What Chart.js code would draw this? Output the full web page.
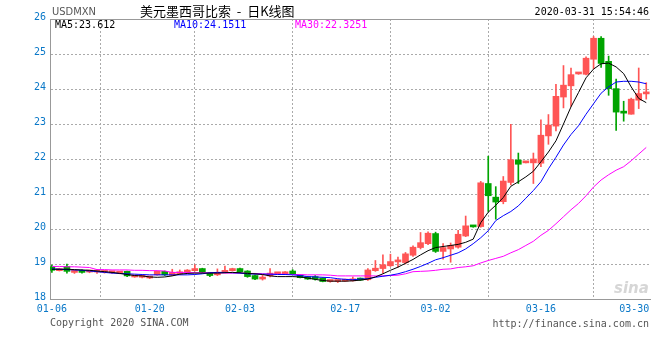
<!DOCTYPE html>
<html>
<head>
<meta charset="utf-8">
<script src="https://cdn.jsdelivr.net/npm/chart.js@4.4.1/dist/chart.umd.min.js"></script>
<style>
  html, body { margin: 0; padding: 0; background: #fff; }
  #wrap { position: relative; width: 660px; height: 360px; overflow: hidden; }
  #myChart { position: absolute; left: 0; top: 0; }
  .txt { position: absolute; white-space: pre; font-family: "DejaVu Sans Mono", monospace; font-size: 10px; line-height: 12px; }
</style>
</head>
<body>
<div id="wrap">
  <canvas id="myChart" width="660" height="360" style="width:660px;height:360px"></canvas>
  <span class="txt" style="left:52px;top:6px;color:#555;font-family:'Liberation Sans Narrow','DejaVu Sans Condensed',sans-serif;font-size:11px;">USDMXN</span>
  <span class="txt" style="left:140px;top:3px;color:#000;font-family:'Noto Sans CJK SC',sans-serif;font-size:13px;line-height:16px;">美元墨西哥比索  -  日K线图</span>
  <span class="txt" style="right:11px;top:6px;color:#000;">2020-03-31 15:54:46</span>
  <span class="txt" style="left:55px;top:19px;color:#000;">MA5:23.612</span>
  <span class="txt" style="left:174px;top:19px;color:#0000ff;">MA10:24.1511</span>
  <span class="txt" style="left:295px;top:19px;color:#ff00ff;">MA30:22.3251</span>
  <span class="txt" style="left:50px;top:317px;color:#555;">Copyright 2020 SINA.COM</span>
  <span class="txt" style="right:11px;top:318px;color:#555;">http://finance.sina.com.cn</span>
  <span class="txt" style="left:614px;top:280px;color:#d6d6d6;font-family:'DejaVu Sans',sans-serif;font-style:italic;font-weight:bold;font-size:15px;line-height:16px;">sina</span>
</div>
<script>
// dates on the category axis (one per candle)
var dates = [
  '01-06','01-07','01-08','01-09','01-10','01-11','01-13','01-14','01-15','01-16','01-17','01-18','01-19',
  '01-20','01-21','01-22','01-23','01-24','01-25','01-27','01-28','01-29','01-30','01-31','02-01',
  '02-03','02-04','02-05','02-06','02-07','02-08','02-09','02-10','02-11','02-12','02-13','02-14','02-15','02-16',
  '02-17','02-18','02-19','02-20','02-21','02-22','02-24','02-25','02-26','02-27','02-28','02-29',
  '03-02','03-03','03-04','03-05','03-06','03-07','03-08','03-09','03-10','03-11','03-12','03-13','03-14','03-15',
  '03-16','03-17','03-18','03-19','03-20','03-21','03-22','03-23','03-24','03-25','03-26','03-27','03-28','03-29',
  '03-30'
];
var tickDates = ['01-06','01-20','02-03','02-17','03-02','03-16','03-30'];

var open = [
  18.92,18.81,18.93,18.76,18.81,18.77,18.77,18.76,18.75,18.74,
  18.79,18.63,18.62,18.60,18.69,18.79,18.68,18.72,18.77,18.81,
  18.87,18.73,18.69,18.76,18.81,18.87,18.80,18.67,18.57,18.66,
  18.72,18.72,18.80,18.68,18.64,18.64,18.60,18.50,18.50,18.51,
  18.52,18.58,18.55,18.81,18.87,18.95,19.06,19.04,19.25,19.47,
  19.58,19.87,19.36,19.43,19.48,19.80,20.08,20.07,21.30,20.91,
  20.78,21.33,21.97,21.89,21.89,21.88,22.66,22.94,23.77,24.09,
  24.43,24.42,24.85,25.45,24.79,24.01,23.35,23.28,23.68,23.86
];
var close = [
  18.82,18.86,18.79,18.80,18.76,18.80,18.81,18.79,18.77,18.76,
  18.66,18.66,18.64,18.62,18.79,18.69,18.76,18.75,18.82,18.87,
  18.77,18.67,18.75,18.82,18.87,18.78,18.64,18.57,18.62,18.74,
  18.75,18.77,18.72,18.61,18.57,18.57,18.50,18.52,18.53,18.56,
  18.56,18.54,18.83,18.88,18.98,19.07,19.08,19.29,19.48,19.61,
  19.88,19.36,19.47,19.53,19.85,20.09,20.06,21.32,20.95,20.77,
  21.37,21.98,21.85,21.91,22.00,22.68,22.97,23.79,24.11,24.41,
  24.45,24.88,25.45,24.73,24.01,23.34,23.31,23.71,23.87,23.91
];
var high = [
  18.97,18.88,19.00,18.82,18.83,18.82,18.85,18.80,18.78,18.77,
  18.80,18.68,18.66,18.63,18.80,18.80,18.85,18.83,18.84,18.98,
  18.88,18.74,18.86,18.94,18.88,18.88,18.81,18.68,18.68,18.87,
  18.76,18.78,18.84,18.69,18.65,18.67,18.61,18.53,18.54,18.57,
  18.63,18.60,18.87,19.10,19.26,19.28,19.20,19.33,19.52,19.90,
  19.92,19.91,19.58,19.60,19.96,20.37,20.09,21.36,22.08,21.21,
  21.50,22.99,22.17,21.92,22.17,23.12,23.27,24.13,24.67,24.60,
  24.46,24.92,25.50,25.50,24.94,24.28,23.65,23.74,24.60,24.18
];
var low = [
  18.76,18.80,18.74,18.73,18.74,18.75,18.73,18.74,18.73,18.72,
  18.64,18.62,18.60,18.58,18.68,18.67,18.67,18.70,18.72,18.80,
  18.74,18.64,18.67,18.75,18.80,18.77,18.62,18.55,18.54,18.63,
  18.71,18.71,18.71,18.60,18.56,18.54,18.49,18.48,18.47,18.50,
  18.51,18.53,18.53,18.79,18.74,18.93,18.91,19.00,19.22,19.43,
  19.55,19.33,19.14,19.05,19.45,19.78,20.05,20.05,20.50,20.28,
  20.72,21.26,21.30,21.89,21.30,21.78,22.42,22.80,23.46,23.50,
  24.42,24.40,24.58,24.62,23.82,22.82,23.08,23.28,23.44,23.71
];
var ma5 = [
  18.85,18.85,18.85,18.84,18.83,18.82,18.80,18.78,18.76,18.73,
  18.70,18.67,18.66,18.63,18.62,18.63,18.66,18.71,18.73,18.74,
  18.74,18.74,18.74,18.75,18.76,18.75,18.73,18.72,18.70,18.66,
  18.64,18.64,18.64,18.63,18.60,18.56,18.53,18.51,18.51,18.51,
  18.52,18.54,18.57,18.63,18.72,18.82,18.91,19.02,19.13,19.26,
  19.38,19.47,19.50,19.53,19.56,19.62,19.71,20.18,20.48,20.68,
  20.90,21.22,21.35,21.49,21.65,21.92,22.20,22.52,23.00,23.49,
  23.90,24.32,24.57,24.72,24.74,24.63,24.44,24.06,23.73,23.61
];
var ma10 = [
  18.86,18.85,18.84,18.83,18.82,18.80,18.78,18.76,18.74,18.73,
  18.72,18.71,18.70,18.69,18.69,18.69,18.69,18.69,18.69,18.70,
  18.72,18.75,18.76,18.76,18.75,18.74,18.72,18.71,18.71,18.71,
  18.70,18.70,18.69,18.67,18.64,18.63,18.62,18.61,18.58,18.56,
  18.55,18.57,18.58,18.62,18.65,18.68,18.72,18.78,18.85,18.93,
  19.02,19.12,19.18,19.25,19.32,19.43,19.58,19.75,19.95,20.24,
  20.38,20.50,20.66,20.88,21.10,21.35,21.72,22.05,22.40,22.70,
  22.95,23.28,23.58,23.88,24.06,24.20,24.22,24.22,24.20,24.15
];
var ma30 = [
  18.93,18.93,18.92,18.92,18.91,18.90,18.84,18.84,18.83,18.83,
  18.83,18.82,18.82,18.81,18.81,18.80,18.76,18.76,18.76,18.75,
  18.75,18.75,18.75,18.74,18.74,18.74,18.73,18.73,18.72,18.71,
  18.71,18.71,18.70,18.70,18.69,18.69,18.69,18.68,18.66,18.66,
  18.66,18.66,18.66,18.66,18.66,18.67,18.68,18.72,18.78,18.79,
  18.80,18.82,18.85,18.86,18.90,18.92,18.95,19.03,19.10,19.16,
  19.22,19.32,19.41,19.53,19.65,19.82,19.96,20.15,20.35,20.55,
  20.73,20.95,21.20,21.40,21.55,21.68,21.78,21.95,22.14,22.33
];

var upColor = '#ff5555';
var downColor = '#00a400';
var tickBlue = '#0a78c8';
var candleColors = dates.map(function(d, i) { return close[i] >= open[i] ? upColor : downColor; });
var tickIdx = tickDates.map(function(d) { return dates.indexOf(d); });

function pts(arr) { return arr.map(function(v, i) { return {x: i, y: v}; }); }

var frame = {
  id: 'frame',
  afterDraw: function(chart) {
    var a = chart.chartArea, c = chart.ctx;
    c.save();
    c.strokeStyle = '#999';
    c.lineWidth = 1;
    c.beginPath();
    c.moveTo(a.left, Math.round(a.top) + 0.5);
    c.lineTo(a.right, Math.round(a.top) + 0.5);
    c.stroke();
    c.restore();
  }
};

var ctx = document.getElementById('myChart');
var myChart = new Chart(ctx, {
  type: 'bar',
  data: {
    datasets: [
      { type: 'line', data: pts(ma5), borderColor: '#000', borderWidth: 1, pointRadius: 0, tension: 0, order: 0 },
      { type: 'line', data: pts(ma10), borderColor: '#0000ff', borderWidth: 1, pointRadius: 0, tension: 0, order: 0 },
      { type: 'line', data: pts(ma30), borderColor: '#ff00ff', borderWidth: 1, pointRadius: 0, tension: 0, order: 0 },
      { data: dates.map(function(d, i) { return {x: i, y: [open[i], close[i]]}; }),
        backgroundColor: candleColors, barThickness: 6, minBarLength: 2, grouped: false, borderWidth: 0, order: 1 },
      { data: dates.map(function(d, i) { return {x: i, y: [low[i], high[i]]}; }),
        backgroundColor: candleColors, barThickness: 1, grouped: false, borderWidth: 0, order: 2 }
    ]
  },
  options: {
    responsive: false,
    animation: false,
    layout: { padding: { top: 19, right: 10, left: 0, bottom: 0 } },
    plugins: { legend: { display: false }, tooltip: { enabled: false } },
    scales: {
      x: {
        type: 'linear', min: -0.25, max: 79.5, offset: false,
        afterBuildTicks: function(s) { s.ticks = tickIdx.map(function(v) { return {value: v}; }); },
        afterFit: function(s) { s.height = 61; s.paddingLeft = 0; s.paddingRight = 0; },
        ticks: {
          autoSkip: false, maxRotation: 0, padding: 4, color: tickBlue,
          font: { family: 'DejaVu Sans Mono', size: 10 },
          callback: function(v, i, t) { return i === t.length - 1 ? dates[v] + '    ' : dates[v]; }
        },
        grid: { color: '#aaa', drawTicks: false },
        border: { color: '#999', dash: [2, 2] }
      },
      y: {
        min: 18, max: 26,
        afterFit: function(s) { s.width = 50; },
        ticks: {
          stepSize: 1, padding: 4, labelOffset: -2, color: tickBlue,
          font: { family: 'DejaVu Sans Mono', size: 10 }
        },
        grid: { color: '#aaa', drawTicks: false },
        border: { color: '#999', dash: [2, 2] }
      }
    }
  },
  plugins: [frame]
});
</script>
</body>
</html>
